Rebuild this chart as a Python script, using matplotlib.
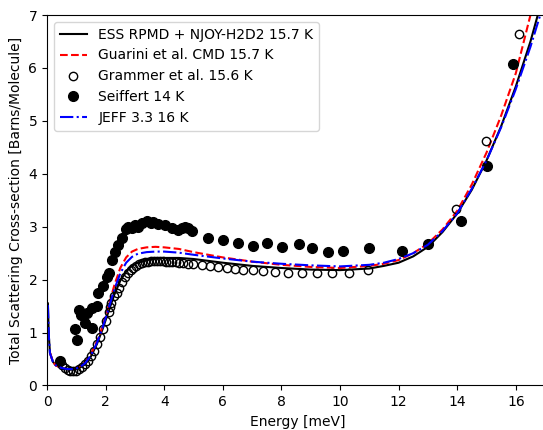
import matplotlib
matplotlib.use('Agg')
import matplotlib.pyplot as plt
import numpy as np

# ESS RPMD + NJOY-H2D2 15.7 K
ess_e = [0.03, 0.06, 0.1, 0.2, 0.3, 0.5, 0.7, 0.9, 1.1, 1.3, 1.5, 1.7, 1.9, 2.1, 2.3, 2.5,
         2.7, 2.9, 3.1, 3.4, 3.7, 4.0, 4.5, 5.0, 6.0, 7.0, 8.0, 9.0, 10.0, 11.0, 11.5,
         12.0, 12.5, 13.0, 13.5, 14.0, 14.5, 15.0, 15.5, 16.0, 16.5, 17.0, 17.3]
ess_xs = [1.55, 0.95, 0.62, 0.45, 0.38, 0.33, 0.30, 0.30, 0.33, 0.40, 0.55, 0.78, 1.07, 1.40, 1.72, 1.98,
          2.15, 2.26, 2.32, 2.37, 2.40, 2.41, 2.41, 2.39, 2.32, 2.26, 2.22, 2.19, 2.18, 2.21, 2.26,
          2.32, 2.44, 2.62, 2.90, 3.25, 3.70, 4.25, 4.90, 5.65, 6.50, 7.50, 8.10]

# Guarini et al. CMD 15.7 K
cmd_e = [0.1, 0.2, 0.3, 0.5, 0.7, 0.9, 1.1, 1.3, 1.5, 1.7, 1.9, 2.1, 2.3, 2.5, 2.7, 2.9,
         3.1, 3.4, 3.7, 4.0, 4.5, 5.0, 6.0, 7.0, 8.0, 9.0, 10.0, 11.0, 11.5, 12.0, 12.5,
         13.0, 13.5, 14.0, 14.5, 15.0, 15.5, 16.0, 16.5, 16.8]
cmd_xs = [0.62, 0.45, 0.38, 0.33, 0.31, 0.32, 0.36, 0.44, 0.60, 0.83, 1.12, 1.50, 1.90, 2.22, 2.42, 2.53,
          2.58, 2.61, 2.62, 2.61, 2.58, 2.52, 2.42, 2.34, 2.28, 2.24, 2.22, 2.26, 2.30, 2.37, 2.50,
          2.68, 2.95, 3.30, 3.80, 4.40, 5.10, 5.90, 7.00, 7.70]

# Grammer et al. 15.6 K
gram_e = [0.44, 0.5, 0.6, 0.7, 0.8, 0.9, 1.0, 1.1, 1.2, 1.3, 1.4, 1.5, 1.6, 1.7, 1.8, 1.9,
          2.0, 2.1, 2.15, 2.2, 2.3, 2.38, 2.45, 2.55, 2.65, 2.75, 2.85, 2.95, 3.05, 3.15, 3.25,
          3.35, 3.45, 3.55, 3.65, 3.75, 3.85, 3.95, 4.05, 4.15, 4.25, 4.4, 4.5, 4.64, 4.82,
          4.98, 5.29, 5.56, 5.84, 6.14, 6.42, 6.69, 7.03, 7.37, 7.78, 8.24, 8.69, 9.2, 9.72,
          10.32, 10.97, 13.0, 13.96, 14.98, 16.1]
gram_xs = [0.47, 0.38, 0.33, 0.30, 0.27, 0.27, 0.28, 0.31, 0.35, 0.40, 0.47, 0.56, 0.66, 0.78, 0.92, 1.07,
           1.22, 1.38, 1.49, 1.56, 1.70, 1.75, 1.85, 1.95, 2.05, 2.12, 2.18, 2.22, 2.26, 2.29, 2.31,
           2.33, 2.34, 2.35, 2.35, 2.35, 2.35, 2.35, 2.34, 2.34, 2.33, 2.33, 2.32, 2.32, 2.30,
           2.29, 2.27, 2.26, 2.24, 2.22, 2.21, 2.19, 2.18, 2.17, 2.14, 2.13, 2.12, 2.12, 2.12,
           2.13, 2.18, 2.68, 3.33, 4.62, 6.65]

# Seiffert 14 K
seif_e = [0.44, 0.96, 1.01, 1.10, 1.16, 1.30, 1.35, 1.53, 1.55, 1.70, 1.75, 1.92, 2.04, 2.12,
          2.21, 2.32, 2.43, 2.55, 2.68, 2.77, 2.90, 3.00, 3.12, 3.23, 3.40, 3.55, 3.63, 3.80,
          4.03, 4.26, 4.48, 4.62, 4.71, 4.82, 4.94, 5.50, 6.02, 6.53, 7.02, 7.52, 8.01, 8.61,
          9.03, 9.60, 10.11, 11.00, 12.10, 13.00, 14.13, 15.02, 15.90]
seif_xs = [0.47, 1.07, 0.86, 1.42, 1.33, 1.18, 1.37, 1.46, 1.08, 1.50, 1.74, 1.88, 2.05, 2.12,
           2.37, 2.53, 2.66, 2.78, 2.95, 3.00, 2.97, 3.03, 3.00, 3.07, 3.10, 3.07, 3.08, 3.05,
           3.03, 2.97, 2.94, 2.97, 3.00, 2.98, 2.92, 2.78, 2.74, 2.70, 2.64, 2.69, 2.62, 2.67,
           2.59, 2.53, 2.55, 2.59, 2.54, 2.67, 3.11, 4.15, 6.08]

# JEFF 3.3 16 K
jeff_e = [0.03, 0.06, 0.1, 0.2, 0.3, 0.5, 0.7, 0.9, 1.1, 1.3, 1.5, 1.7, 1.9, 2.1, 2.3, 2.5,
          2.7, 2.9, 3.1, 3.4, 3.7, 4.0, 4.5, 5.0, 6.0, 7.0, 8.0, 9.0, 10.0, 11.0, 11.5,
          12.0, 12.5, 13.0, 13.5, 14.0, 14.5, 15.0, 15.5, 16.0, 16.5, 17.0, 17.3]
jeff_xs = [1.52, 0.95, 0.61, 0.45, 0.38, 0.33, 0.31, 0.31, 0.34, 0.42, 0.57, 0.80, 1.10, 1.45, 1.82, 2.12,
           2.32, 2.43, 2.49, 2.52, 2.53, 2.53, 2.51, 2.47, 2.40, 2.34, 2.30, 2.27, 2.25, 2.28, 2.32,
           2.39, 2.50, 2.66, 2.92, 3.25, 3.72, 4.25, 4.88, 5.60, 6.40, 7.30, 7.90]

fig = plt.figure(figsize=(5.43, 4.30), dpi=100)
# right spine falls just outside the picture, as in the reference
ax = fig.add_axes([0.0866, 0.1035, 0.9227, 0.8616])

ax.plot(ess_e, ess_xs, color='black', lw=1.5, label='ESS RPMD + NJOY-H2D2 15.7 K')
ax.plot(cmd_e, cmd_xs, color='red', ls='--', lw=1.5, label='Guarini et al. CMD 15.7 K')
ax.plot(gram_e, gram_xs, 'o', mfc='none', mec='black', ms=6, label='Grammer et al. 15.6 K')
ax.plot(seif_e, seif_xs, 'o', color='black', ms=7, label='Seiffert 14 K')
ax.plot(jeff_e, jeff_xs, color='blue', ls='-.', lw=1.5, label='JEFF 3.3 16 K')

ax.set_xlim(0, 17.1)
ax.set_ylim(0, 7)
ax.set_xticks(np.arange(0, 17, 2))
ax.set_xlabel('Energy [meV]')
ax.set_ylabel('Total Scattering Cross-section [Barns/Molecule]')
ax.legend(loc='upper left')

fig.savefig('out.png', dpi=100)
